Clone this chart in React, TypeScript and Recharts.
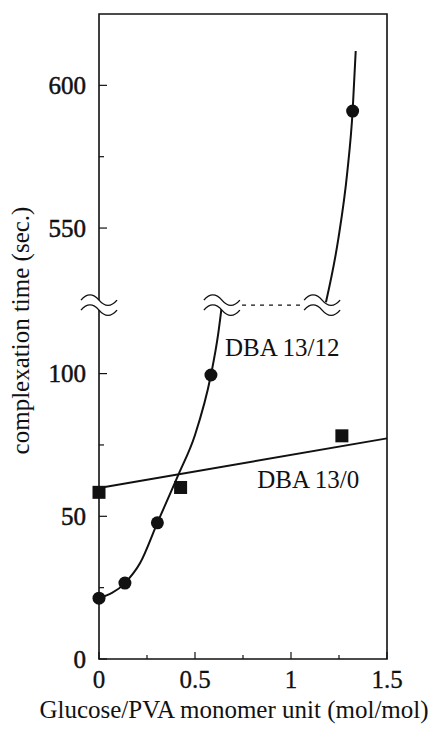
import React from 'react';
import {
  ComposedChart,
  Line,
  Scatter,
  XAxis,
  YAxis,
  ReferenceArea,
  ReferenceDot,
  ReferenceLine,
  Label,
} from 'recharts';

// broken y axis: values between BREAK_LOW and BREAK_HIGH are cut out
const BREAK_LOW = 124;
const BREAK_HIGH = 523;
const Y_TOP = 625;

const X_TICKS = [0, 0.25, 0.5, 0.75, 1, 1.25, 1.5];
const X_LABELED = [0, 0.5, 1, 1.5];
const Y_TICKS = [0, 25, 50, 75, 100, 550, 575, 600];
const Y_LABELED = [0, 50, 100, 550, 600];

// DBA 13/12 measured (circles)
const dba1312X = [0, 0.135, 0.304, 0.583, 1.321];
const dba1312Y = [21.3, 26.6, 47.7, 99.5, 591];

// DBA 13/0 measured (squares)
const dba130X = [0, 0.425, 1.265];
const dba130Y = [58.4, 60.1, 78.2];

// hand-drawn guide curves
const curve1312LowX = [0, 0.135, 0.214, 0.304, 0.413, 0.5, 0.583, 0.621, 0.64];
const curve1312LowY = [21.3, 26.6, 33.6, 47.7, 64.5, 78.5, 99.5, 114, 124];
const curve1312HighX = [1.182, 1.246, 1.293, 1.321, 1.337];
const curve1312HighY = [524, 546, 569.5, 591, 612];
const line130X = [0, 1.5];
const line130Y = [59.9, 77.3];

// where the "≈" break marks sit, and the dashed bridge
const BREAK_MARK_X = [0, 0.64, 1.162];
const DASH_X = [0.745, 1.055];

const INK = '#111';
const FONT = '"Liberation Serif", "Times New Roman", serif';
const Y_TICK_MARGIN = 13;
const X_TICK_MARGIN = 11;

const GAP = BREAK_HIGH - BREAK_LOW;
const toAxis = (v: number) => (v > BREAK_LOW ? v - GAP : v);
const fromAxis = (v: number) => (v > BREAK_LOW ? v + GAP : v);

const toPoints = (xs: number[], ys: number[]) => xs.map((x, i) => ({ x, y: toAxis(ys[i]) }));

const circles = toPoints(dba1312X, dba1312Y);
const squares = toPoints(dba130X, dba130Y);
const curveLow = toPoints(curve1312LowX, curve1312LowY);
const curveHigh = toPoints(curve1312HighX, curve1312HighY);
const line130 = toPoints(line130X, line130Y);

const YTick = (props: any) => {
  const { x, y, payload } = props;
  const value = Math.round(fromAxis(payload.value));
  const major = Y_LABELED.includes(value);
  const axisX = x + Y_TICK_MARGIN;
  return (
    <g>
      <line x1={axisX} x2={axisX + (major ? 8 : 5)} y1={y} y2={y} stroke={INK} strokeWidth={1.2} />
      {major && (
        <text
          x={x}
          y={y}
          dy="0.34em"
          textAnchor="end"
          fontSize={25}
          fontFamily={FONT}
          fill={INK}
          stroke={INK}
          strokeWidth={0.5}
        >
          {value}
        </text>
      )}
    </g>
  );
};

const XTick = (props: any) => {
  const { x, y, payload } = props;
  const major = X_LABELED.includes(payload.value);
  const axisY = y - X_TICK_MARGIN;
  return (
    <g>
      <line x1={x} x2={x} y1={axisY} y2={axisY - (major ? 7 : 4)} stroke={INK} strokeWidth={1.2} />
      {major && (
        <text
          x={x}
          y={y}
          dy="0.71em"
          textAnchor="middle"
          fontSize={25}
          fontFamily={FONT}
          fill={INK}
          stroke={INK}
          strokeWidth={0.3}
        >
          {String(payload.value)}
        </text>
      )}
    </g>
  );
};

const wave = (dy: number) => `M-18,${dy} C-12,${dy - 7} -6,${dy - 7} 0,${dy} S12,${dy + 7} 18,${dy}`;

const BreakMark = (props: any) => {
  const { cx, cy } = props;
  return (
    <g transform={`translate(${cx},${cy})`}>
      <path
        d={`${wave(-5)} L18,5 C12,12 6,12 0,5 S-12,-2 -18,5 Z`}
        fill="#fff"
        stroke="none"
      />
      <path d={wave(-5)} fill="none" stroke={INK} strokeWidth={1.4} />
      <path d={wave(5)} fill="none" stroke={INK} strokeWidth={1.4} />
    </g>
  );
};

const Circle = (props: any) => <circle cx={props.cx} cy={props.cy} r={6.5} fill={INK} />;
const Square = (props: any) => (
  <rect x={props.cx - 6.5} y={props.cy - 6.5} width={13} height={13} fill={INK} />
);

const seriesLabel = (text: string) => (props: any) => (
  <text x={props.cx} y={props.cy} fontSize={25} fontFamily={FONT} fill={INK}>
    {text}
  </text>
);

export default function App() {
  return (
    <div style={{ position: 'absolute', left: 0, top: 0, width: 437, height: 731, background: '#fff' }}>
      <ComposedChart width={437} height={731} margin={{ top: 14, right: 50, bottom: 0, left: 0 }}>
        <XAxis
          type="number"
          dataKey="x"
          domain={[0, 1.5]}
          ticks={X_TICKS}
          interval={0}
          axisLine={false}
          tickLine={false}
          tickSize={0}
          tickMargin={X_TICK_MARGIN}
          tick={<XTick />}
          height={72}
        >
          <Label
            content={(p: any) => {
              const vb = p.viewBox;
              return (
                <text
                  x={vb.x + vb.width / 2 - 9}
                  y={vb.y + 59}
                  textAnchor="middle"
                  fontSize={25}
                  fontFamily={FONT}
                  fill={INK}
                >
                  Glucose/PVA monomer unit (mol/mol)
                </text>
              );
            }}
          />
        </XAxis>
        <YAxis
          type="number"
          dataKey="y"
          domain={[0, toAxis(Y_TOP)]}
          ticks={Y_TICKS.map(toAxis)}
          interval={0}
          axisLine={false}
          tickLine={false}
          tickSize={0}
          tickMargin={Y_TICK_MARGIN}
          tick={<YTick />}
          width={99}
        >
          <Label
            content={(p: any) => {
              const vb = p.viewBox;
              const cy = vb.y + vb.height / 2 - 6;
              return (
                <text
                  transform={`translate(${vb.x + 29},${cy}) rotate(-90)`}
                  textAnchor="middle"
                  fontSize={25}
                  fontFamily={FONT}
                  fill={INK}
                >
                  complexation time (sec.)
                </text>
              );
            }}
          />
        </YAxis>

        <ReferenceArea
          x1={0}
          x2={1.5}
          y1={0}
          y2={toAxis(Y_TOP)}
          fill="none"
          stroke={INK}
          strokeWidth={1.6}
        />

        <Line
          data={curveLow}
          dataKey="y"
          type="monotone"
          stroke={INK}
          strokeWidth={2}
          dot={false}
          activeDot={false}
          isAnimationActive={false}
        />
        <Line
          data={curveHigh}
          dataKey="y"
          type="monotone"
          stroke={INK}
          strokeWidth={2}
          dot={false}
          activeDot={false}
          isAnimationActive={false}
        />
        <Line
          data={line130}
          dataKey="y"
          type="linear"
          stroke={INK}
          strokeWidth={2}
          dot={false}
          activeDot={false}
          isAnimationActive={false}
        />

        <ReferenceLine
          segment={[
            { x: DASH_X[0], y: BREAK_LOW },
            { x: DASH_X[1], y: BREAK_LOW },
          ]}
          stroke={INK}
          strokeWidth={1.3}
          strokeDasharray="4 5"
        />
        {BREAK_MARK_X.map((bx) => (
          <ReferenceDot key={bx} x={bx} y={BREAK_LOW} r={1} shape={<BreakMark />} />
        ))}

        <Scatter data={circles} dataKey="y" shape={<Circle />} isAnimationActive={false} />
        <Scatter data={squares} dataKey="y" shape={<Square />} isAnimationActive={false} />

        <ReferenceDot x={0.656} y={106} r={1} shape={seriesLabel('DBA 13/12')} />
        <ReferenceDot x={0.824} y={59.8} r={1} shape={seriesLabel('DBA 13/0')} />
      </ComposedChart>
    </div>
  );
}
